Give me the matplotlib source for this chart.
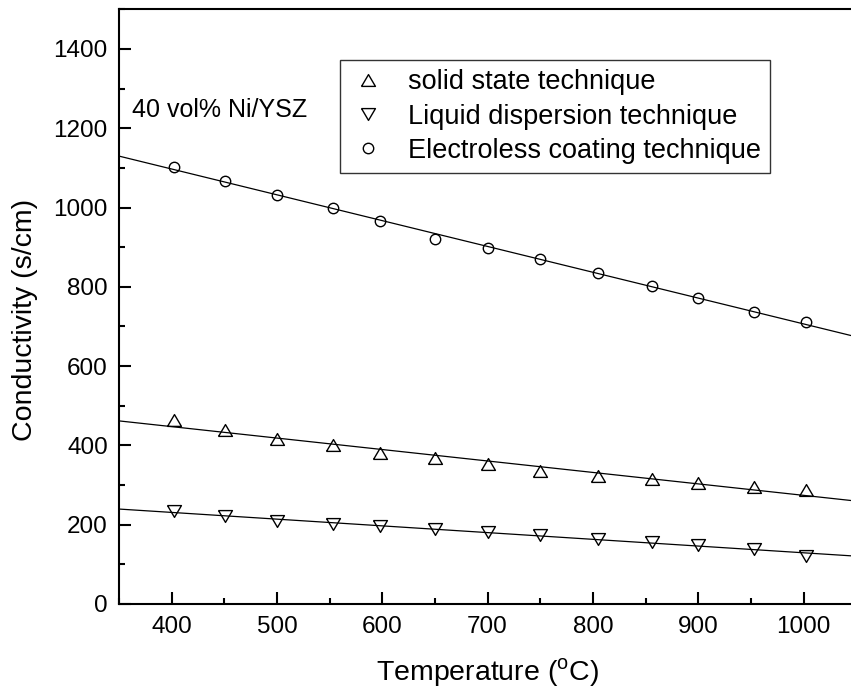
import numpy as np
import matplotlib.pyplot as plt
from matplotlib.ticker import MultipleLocator

# temperature (C)
temp = [402, 451, 500, 553, 598, 650, 700, 750, 805, 856, 900, 953, 1002]

# conductivity (s/cm)
solid_state = [465, 440, 415, 400, 381, 368, 354, 336, 324, 314, 304, 294, 288]
liquid_disp = [235, 222, 209, 201, 196, 188, 182, 174, 165, 157, 148, 139, 121]
electroless = [1102, 1068, 1032, 998, 966, 921, 898, 869, 835, 802, 772, 737, 710]

plt.rcParams['font.family'] = ['Liberation Sans', 'DejaVu Sans']
plt.rcParams['mathtext.fontset'] = 'custom'
plt.rcParams['mathtext.rm'] = 'Liberation Sans'

tri_up = [(-1, -0.85), (1, -0.85), (0, 0.85), (-1, -0.85)]
tri_down = [(-1, 0.85), (1, 0.85), (0, -0.85), (-1, 0.85)]

fig = plt.figure(figsize=(8.51, 6.98), dpi=100)
ax = fig.add_axes([0.1398, 0.1347, 0.8664, 0.852])

xlim = (350, 1050)
series = [
    (solid_state, tri_up, 10, 'solid state technique'),
    (liquid_disp, tri_down, 10, 'Liquid dispersion technique'),
    (electroless, 'o', 7.5, 'Electroless coating technique'),
]

xs = np.array(xlim)
for vals, mk, ms, lab in series:
    ax.plot(temp, vals, linestyle='none', marker=mk, markersize=ms,
            markerfacecolor='none', markeredgecolor='black',
            markeredgewidth=1.0, label=lab)
    k, b = np.polyfit(temp, vals, 1)
    ax.plot(xs, k * xs + b, color='black', lw=0.9)

ax.set_xlim(*xlim)
ax.set_ylim(0, 1500)
ax.xaxis.set_major_locator(MultipleLocator(100))
ax.xaxis.set_minor_locator(MultipleLocator(50))
ax.yaxis.set_minor_locator(MultipleLocator(100))
ax.set_yticks(range(0, 1401, 200))

ax.tick_params(which='both', direction='in', width=1.5, labelsize=17.5)
ax.tick_params(which='major', length=8.5)
ax.tick_params(which='minor', length=4.5)
ax.tick_params(axis='x', pad=9)
ax.tick_params(axis='y', pad=8)
ax.xaxis.set_ticks_position('bottom')
ax.yaxis.set_ticks_position('left')
for sp in ax.spines.values():
    sp.set_linewidth(1.5)

ax.set_xlabel(r'Temperature ($^\mathregular{o}$C)', fontsize=20.5, labelpad=13)
ax.set_ylabel('Conductivity (s/cm)', fontsize=20.5)
ax.yaxis.set_label_coords(-0.110, 0.478)

ax.text(0.018, 0.819, '40 vol% Ni/YSZ', transform=ax.transAxes,
        fontsize=18, va='baseline')

leg = ax.legend(loc='upper left', bbox_to_anchor=(0.2997, 0.9147),
                fontsize=19.5, frameon=True, fancybox=False,
                edgecolor='black', handlelength=1.4, handletextpad=0.75,
                labelspacing=0.3, borderpad=0.35, borderaxespad=0)
leg.get_frame().set_linewidth(1.0)

fig.savefig('out.png', dpi=100)
